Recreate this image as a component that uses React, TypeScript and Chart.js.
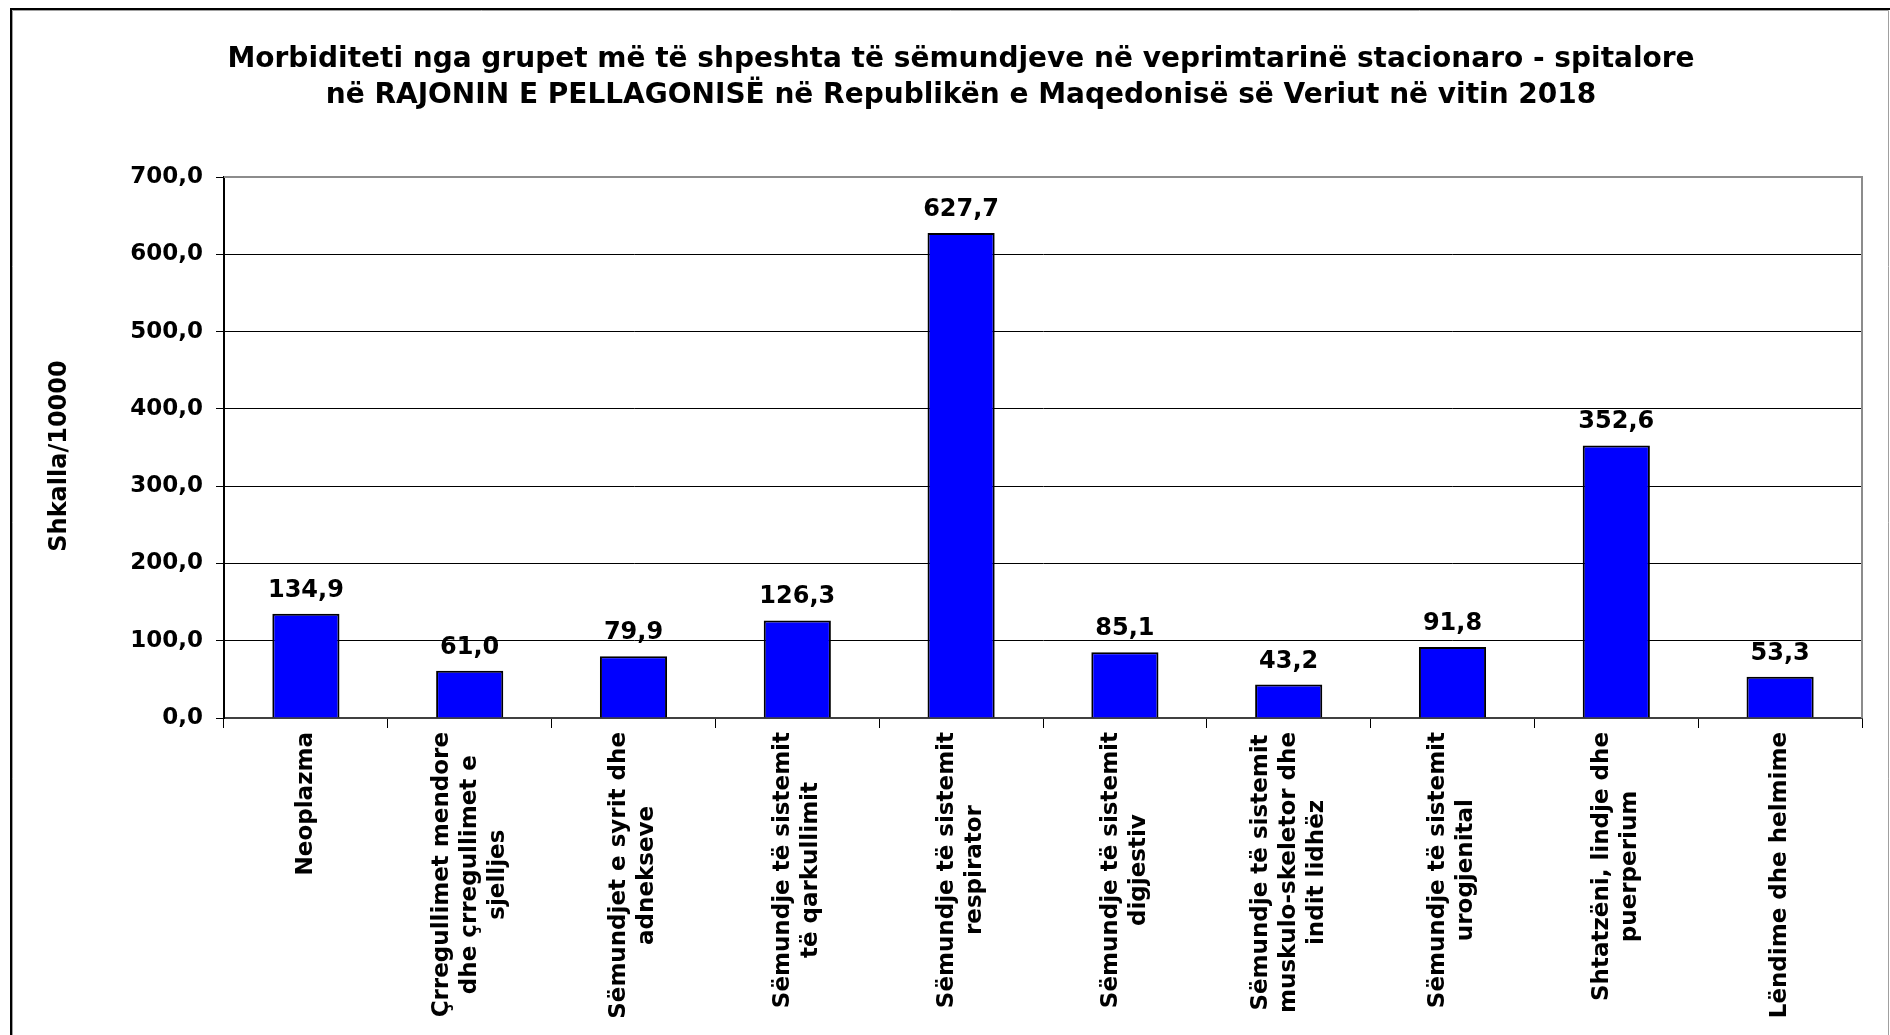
import React, { useEffect, useRef } from 'react';
import { Chart, registerables } from 'chart.js';

Chart.register(...registerables);

const titleLines: string[] = [
  'Morbiditeti nga grupet më të shpeshta të sëmundjeve në veprimtarinë stacionaro - spitalore',
  'në RAJONIN E PELLAGONISË në Republikën e Maqedonisë së Veriut në vitin 2018',
];

const categories: string[][] = [
  ['Neoplazma'],
  ['Çrregullimet mendore', 'dhe çrregullimet e', 'sjelljes'],
  ['Sëmundjet e syrit dhe', 'adnekseve'],
  ['Sëmundje të sistemit', 'të qarkullimit'],
  ['Sëmundje të sistemit', 'respirator'],
  ['Sëmundje të sistemit', 'digjestiv'],
  ['Sëmundje të sistemit', 'muskulo-skeletor dhe', 'indit lidhëz'],
  ['Sëmundje të sistemit', 'urogjenital'],
  ['Shtatzëni, lindje dhe', 'puerperium'],
  ['Lëndime dhe helmime'],
];

const values: number[] = [134.9, 61.0, 79.9, 126.3, 627.7, 85.1, 43.2, 91.8, 352.6, 53.3];

const yAxisTitle = 'Shkalla/10000';
const yMin = 0;
const yMax = 700;
const yStep = 100;

const FONT = "'DejaVu Sans', Verdana, sans-serif";
const W = 1890;
const H = 1035;
const AREA_LEFT = 224;
const AREA_RIGHT = 1862;
const AREA_TOP = 177;
const AREA_BOTTOM = 718;

const fmt = (v: number) => v.toFixed(1).replace('.', ',');

const decorPlugin = {
  id: 'decor',
  beforeDraw(chart: any) {
    const ctx = chart.ctx;
    ctx.save();
    ctx.fillStyle = '#ffffff';
    ctx.fillRect(0, 0, W, H);
    // outer frame
    ctx.strokeStyle = '#000000';
    ctx.lineWidth = 2;
    ctx.beginPath();
    ctx.moveTo(11, H);
    ctx.lineTo(11, 9);
    ctx.lineTo(W, 9);
    ctx.stroke();
    ctx.strokeStyle = '#a0a0a0';
    ctx.lineWidth = 1;
    ctx.beginPath();
    ctx.moveTo(12.5, H);
    ctx.lineTo(12.5, 10.5);
    ctx.lineTo(1888.5, 10.5);
    ctx.lineTo(1888.5, H);
    ctx.stroke();
    ctx.restore();
  },
  afterDatasetsDraw(chart: any) {
    const ctx = chart.ctx;
    const meta = chart.getDatasetMeta(0);
    ctx.save();
    ctx.font = `bold 24px ${FONT}`;
    ctx.fillStyle = '#000000';
    ctx.textAlign = 'center';
    ctx.textBaseline = 'alphabetic';
    meta.data.forEach((el: any, i: number) => {
      ctx.fillText(fmt(values[i]), el.x, el.y - 17);
    });
    ctx.restore();
  },
  afterDraw(chart: any) {
    const ctx = chart.ctx;
    const area = chart.chartArea;
    ctx.save();
    // plot area border (top and right) in gray
    ctx.strokeStyle = '#8c8c8c';
    ctx.lineWidth = 2;
    ctx.beginPath();
    ctx.moveTo(area.left, area.top);
    ctx.lineTo(area.right, area.top);
    ctx.lineTo(area.right, area.bottom);
    ctx.stroke();

    // title
    ctx.fillStyle = '#000000';
    ctx.font = `bold 28px ${FONT}`;
    ctx.textAlign = 'center';
    ctx.textBaseline = 'middle';
    titleLines.forEach((line, i) => {
      ctx.fillText(line, 961, 60 + i * 36);
    });

    // y axis title
    ctx.save();
    ctx.font = `bold 24px ${FONT}`;
    ctx.translate(60, 456);
    ctx.rotate(-Math.PI / 2);
    ctx.textAlign = 'center';
    ctx.textBaseline = 'middle';
    ctx.fillText(yAxisTitle, 0, 0);
    ctx.restore();

    // x category labels, rotated, lines centred
    const xs = chart.scales.x;
    ctx.font = `bold 23px ${FONT}`;
    const lh = 28;
    categories.forEach((lines, i) => {
      const px = xs.getPixelForValue(i);
      const maxW = Math.max(...lines.map((l) => ctx.measureText(l).width));
      ctx.save();
      ctx.translate(px, area.bottom + 14);
      ctx.rotate(-Math.PI / 2);
      ctx.textAlign = 'center';
      ctx.textBaseline = 'middle';
      lines.forEach((l, j) => {
        ctx.fillText(l, -maxW / 2, (j - (lines.length - 1) / 2) * lh);
      });
      ctx.restore();
    });
    ctx.restore();
  },
};

export default function App() {
  const ref = useRef<HTMLCanvasElement | null>(null);

  useEffect(() => {
    if (!ref.current) return;
    const chart = new Chart(ref.current, {
      type: 'bar',
      data: {
        labels: categories.map((c) => c.join(' ')),
        datasets: [
          {
            data: values,
            backgroundColor: '#0000ff',
            borderColor: '#000000',
            borderWidth: 2,
            barPercentage: 0.41,
            categoryPercentage: 1.0,
          },
        ],
      },
      options: {
        responsive: false,
        animation: false,
        devicePixelRatio: 1,
        layout: {
          padding: { top: AREA_TOP, right: W - AREA_RIGHT, left: 0, bottom: 0 },
        },
        plugins: {
          legend: { display: false },
          title: { display: false },
          tooltip: { enabled: false },
        },
        scales: {
          x: {
            offset: true,
            grid: {
              display: true,
              drawOnChartArea: false,
              drawTicks: true,
              tickLength: 10,
              color: '#000000',
              lineWidth: 1,
              offset: true,
            },
            border: { display: true, color: '#404040', width: 2 },
            ticks: { display: false },
            afterFit: (scale: any) => {
              scale.height = H - AREA_BOTTOM;
            },
          },
          y: {
            min: yMin,
            max: yMax,
            ticks: {
              stepSize: yStep,
              padding: 13,
              color: '#000000',
              font: { family: FONT, size: 23, weight: 'bold' },
              callback: (v: any) => fmt(Number(v)),
            },
            grid: {
              color: '#000000',
              lineWidth: 1,
              tickLength: 8,
              drawTicks: true,
            },
            border: { display: true, color: '#000000', width: 2 },
            title: { display: false },
            afterFit: (scale: any) => {
              scale.width = AREA_LEFT;
            },
          },
        },
      },
      plugins: [decorPlugin],
    });
    return () => chart.destroy();
  }, []);

  return (
    <div style={{ width: W, height: H, overflow: 'hidden' }}>
      <style>{'html,body{margin:0;padding:0;overflow:hidden;}'}</style>
      <canvas ref={ref} width={W} height={H} style={{ display: 'block', width: W, height: H }} />
    </div>
  );
}
